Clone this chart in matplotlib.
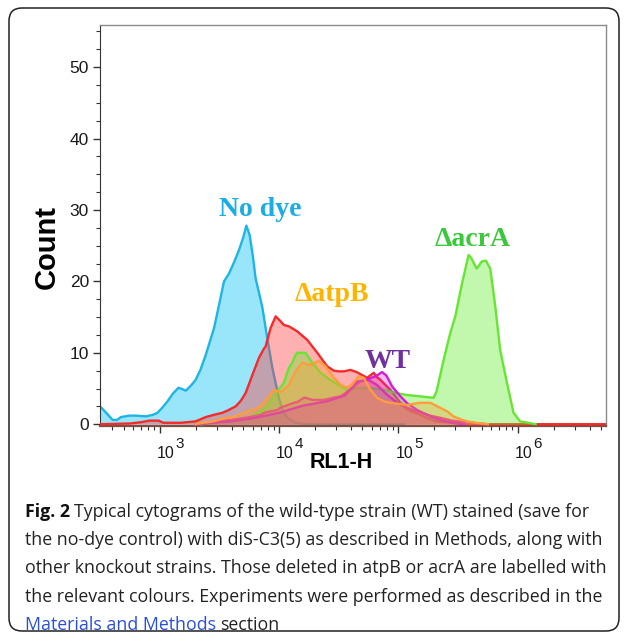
import matplotlib
matplotlib.use('Agg')
import matplotlib.pyplot as plt
from matplotlib.patches import FancyBboxPatch
from matplotlib.ticker import LogLocator, MultipleLocator, FixedLocator, NullFormatter

# RL1-H intensity and event count
nodye_x = [315, 355, 402, 437, 472, 553, 631, 764, 871, 955, 1047, 1159, 1288, 1432, 1549, 1652,
           1820, 1995, 2188, 2427, 2630, 2851, 3162, 3451, 3802, 4169, 4613, 5012, 5309, 5662,
           6026, 6353, 6761, 7244, 7943, 8770, 9954, 10715, 11722, 13740, 17780, 112200]
nodye_y = [2.5, 1.6, 0.6, 0.6, 1.0, 1.2, 1.2, 1.1, 1.3, 1.6, 2.3, 3.2, 4.3, 5.1, 4.9, 4.7,
           5.4, 6.2, 7.6, 9.7, 11.6, 13.5, 17.0, 20.0, 21.1, 22.6, 24.4, 26.2, 27.8, 26.5,
           23.5, 20.4, 18.5, 16.3, 12.1, 7.9, 3.7, 2.0, 0.9, 0.2, 0, 0]

red_x = [316, 562, 708, 813, 977, 1072, 1500, 1995, 2427, 2818, 3342, 3681, 4325, 4786, 5248,
         5970, 6776, 7413, 7709, 8492, 9354, 10300, 10960, 12080, 14190, 17220, 20890, 25290,
         28770, 31620, 34830, 39630, 44670, 54700, 62090, 66070, 70790, 85700, 104000, 120200,
         143200, 177800, 208900, 281800, 398100, 5600000]
red_y = [0, 0.1, 0.3, 0.5, 0.5, 0.2, 0.2, 0.4, 1.0, 1.3, 1.6, 1.9, 2.5, 3.3, 4.4,
         6.9, 9.3, 10.5, 10.9, 13.5, 15.1, 14.4, 13.9, 13.7, 13.0, 11.8, 10.0, 8.1,
         7.5, 7.4, 7.4, 7.6, 7.3, 6.5, 7.2, 6.6, 6.2, 4.8, 3.0, 2.0,
         1.5, 0.8, 0.4, 0.2, 0, 0]

acra_x = [2239, 2818, 3981, 5420, 6607, 7943, 9057, 9661, 10960, 12080, 12880, 13740, 14190,
          16600, 18970, 22230, 26920, 32730, 37150, 44670, 56230, 70790, 85700, 100000, 117500,
          151400, 197200, 208900, 239300, 272300, 299900, 341200, 387300, 407400, 436500,
          453900, 501200, 540800, 588800, 648600, 712800, 812800, 922600, 1047000, 1230000, 1413000]
acra_y = [0, 0.2, 0.4, 0.9, 1.5, 2.5, 3.9, 4.6, 5.8, 7.9, 8.6, 9.7, 10.0,
          10.0, 8.6, 7.2, 6.2, 5.3, 4.8, 5.0, 5.1, 4.9, 4.6, 4.3, 4.1,
          3.9, 3.7, 4.6, 9.0, 12.8, 15.1, 19.7, 23.7, 23.3, 22.3,
          21.8, 22.8, 22.9, 21.8, 16.5, 10.4, 5.8, 1.6, 0.4, 0.2, 0]

atpb_x = [1995, 2291, 2818, 3565, 3926, 5012, 5768, 6166, 6998, 7943, 9057, 10300, 11220, 12080,
          13740, 15630, 18370, 21530, 24490, 28770, 32730, 37150, 40740, 46560, 51290, 58340,
          66370, 75860, 85700, 117500, 151400, 184900, 223900, 257000, 288400, 331100, 375800,
          446700, 562300]
atpb_y = [0, 0.2, 0.4, 0.9, 0.9, 1.5, 2.0, 2.0, 2.5, 3.6, 4.8, 4.5, 5.0, 5.5,
          7.4, 8.6, 8.3, 8.9, 8.1, 6.5, 5.5, 5.1, 5.6, 6.7, 6.5, 4.8,
          3.7, 3.2, 3.0, 2.7, 3.0, 3.0, 2.3, 1.8, 1.1, 0.7, 0.4,
          0.2, 0]

wt_x = [1995, 2818, 3981, 6310, 10000, 15850, 25120, 35480, 41690, 45080, 50120, 54950, 64270,
        72950, 79430, 88510, 104000, 117500, 143200, 184900, 223900, 281800, 354800]
wt_y = [0, 0.2, 0.4, 0.9, 1.6, 2.6, 3.2, 4.0, 5.2, 6.0, 6.1, 6.3, 6.7,
        7.3, 6.8, 5.3, 3.9, 3.0, 2.0, 1.1, 0.6, 0.2, 0]

other_x = [2089, 2818, 3926, 5248, 6998, 7482, 9661, 10230, 13300, 14190, 16140, 16600, 19050,
           23710, 28180, 32730, 34830, 42270, 47860, 56230, 66070, 79430, 97720, 117500,
           143200, 184900, 223900, 281800, 398100, 562300]
other_y = [0, 0.3, 0.6, 0.9, 1.3, 1.6, 2.0, 2.3, 3.0, 3.1, 3.7, 3.7, 3.4,
           3.4, 3.7, 3.9, 4.2, 5.3, 6.0, 6.2, 5.5, 4.2, 3.0, 2.3,
           1.8, 1.2, 0.9, 0.5, 0.2, 0]

xticks = [1e3, 1e4, 1e5, 1e6]
xexp = ['3', '4', '5', '6']
yticks = [0, 10, 20, 30, 40, 50]

fig = plt.figure(figsize=(6.27, 6.37), dpi=100)
ax = fig.add_axes([100/627, 1-426/637, 506/627, 401/637])

curves = [
    (nodye_x, nodye_y, '#1EB4E6', '#1EC8F5', 0.45),
    (red_x, red_y, '#F52A2A', '#FF3A3A', 0.40),
    (acra_x, acra_y, '#66E533', '#66EE33', 0.40),
    (other_x, other_y, '#E03C9C', '#E03C9C', 0.30),
    (wt_x, wt_y, '#D21ED2', '#D21ED2', 0.30),
    (atpb_x, atpb_y, '#FF9D3C', '#F5A030', 0.35),
]
z = 2
for xs, ys, lc, fc, a in curves:
    ax.fill_between(xs, 0, ys, color=fc, alpha=a, lw=0, zorder=z)
    ax.plot(xs, ys, color=lc, lw=1.7, zorder=z + 0.5)
    z += 1

ax.set_xscale('log')
ax.set_xlim(315, 5.5e6)
ax.set_ylim(-0.25, 55.9)
ax.xaxis.set_major_locator(FixedLocator(xticks))
ax.xaxis.set_major_formatter(NullFormatter())
ax.xaxis.set_minor_locator(LogLocator(base=10, subs=range(2, 10)))
ax.xaxis.set_minor_formatter(NullFormatter())
ax.set_yticks(yticks)
ax.yaxis.set_minor_locator(MultipleLocator(2.5))

# 10^n labels with a large raised exponent, as in the original
for t, e in zip(xticks, xexp):
    ax.annotate('10', xy=(t, 0), xycoords=('data', 'axes fraction'), xytext=(-3, -32),
                textcoords='offset pixels', ha='left', va='baseline',
                family='Liberation Sans', fontsize=11.5, color='#1a1a1a', annotation_clip=False)
    ax.annotate(e, xy=(t, 0), xycoords=('data', 'axes fraction'), xytext=(16, -22),
                textcoords='offset pixels', ha='left', va='baseline',
                family='Liberation Sans', fontsize=11, color='#1a1a1a', annotation_clip=False)

for lab in ax.get_yticklabels():
    lab.set_fontfamily('Liberation Sans')
    lab.set_fontsize(12.5)
    lab.set_color('#1a1a1a')
ax.tick_params(axis='both', which='major', length=5, width=1, color='#333333', direction='out')
ax.tick_params(axis='both', which='minor', length=3, width=0.8, color='#333333', direction='out')
ax.tick_params(axis='y', pad=3)
ax.tick_params(top=False, right=False, which='both')

for s in ['top', 'right']:
    ax.spines[s].set_color('#8a8a8a')
    ax.spines[s].set_linewidth(1.0)
ax.spines['left'].set_color('#333333')
ax.spines['bottom'].set_color('#7a5040')
ax.spines['bottom'].set_linewidth(1.6)

# strain labels
lab_font = dict(family='Liberation Serif', fontweight='bold', fontsize=20, ha='center', va='baseline')
ax.text(7000, 29.2, 'No dye', color='#1AADE4', **lab_font)
ax.text(27500, 17.3, '\u0394atpB', color='#FFB400', **lab_font)
ax.text(81700, 7.9, 'WT', color='#7030A0', **lab_font)
ax.text(416000, 24.9, '\u0394acrA', color='#3CC83C', **lab_font)

fig.text(47/627, 1-247/637, 'Count', rotation=90, ha='center', va='center',
         family='Liberation Sans', fontweight='bold', fontsize=21)
fig.text(341/627, 1-462/637, 'RL1-H', ha='center', va='center',
         family='Liberation Sans', fontweight='bold', fontsize=15.5)

# rounded frame round the figure
frame = FancyBboxPatch((0.09, 0.06), 6.10, 6.23, boxstyle='round,pad=0,rounding_size=0.13',
                       transform=fig.dpi_scale_trans, fill=False, ec='#222222', lw=1.1)
fig.patches.append(frame)

# caption
cap_font = 'Open Sans'
lines = [
    ('Fig. 2', ' Typical cytograms of the wild-type strain (WT) stained (save for'),
    (None, 'the no-dye control) with diS-C3(5) as described in Methods, along with'),
    (None, 'other knockout strains. Those deleted in atpB or acrA are labelled with'),
    (None, 'the relevant colours. Experiments were performed as described in the'),
]
line_y = [512, 540, 568, 597, 625]

fig.canvas.draw()
r = fig.canvas.get_renderer()
probe = fig.text(0, 0, lines[1][1], family=cap_font, fontsize=10)
w10 = probe.get_window_extent(renderer=r).width
probe.remove()
fs = 10 * 578 / w10

def put(xpx, ypx, s, **kw):
    t = fig.text(xpx/627, 1-ypx/637, s, family=cap_font, fontsize=fs, va='center', ha='left', **kw)
    return t.get_window_extent(renderer=r).width

x0 = 25
for (bold, rest), yy in zip(lines, line_y):
    xx = x0
    if bold:
        xx += put(xx, yy, bold, fontweight='bold', color='#111111')
        xx += fs * 0.3
        rest = rest.strip()
    put(xx, yy, rest, color='#222222')
wl = put(x0, line_y[4], 'Materials and Methods', color='#2B4FD8')
put(x0 + wl + fs * 0.3, line_y[4], 'section', color='#222222')

fig.savefig('out.png', dpi=100, facecolor='white')
